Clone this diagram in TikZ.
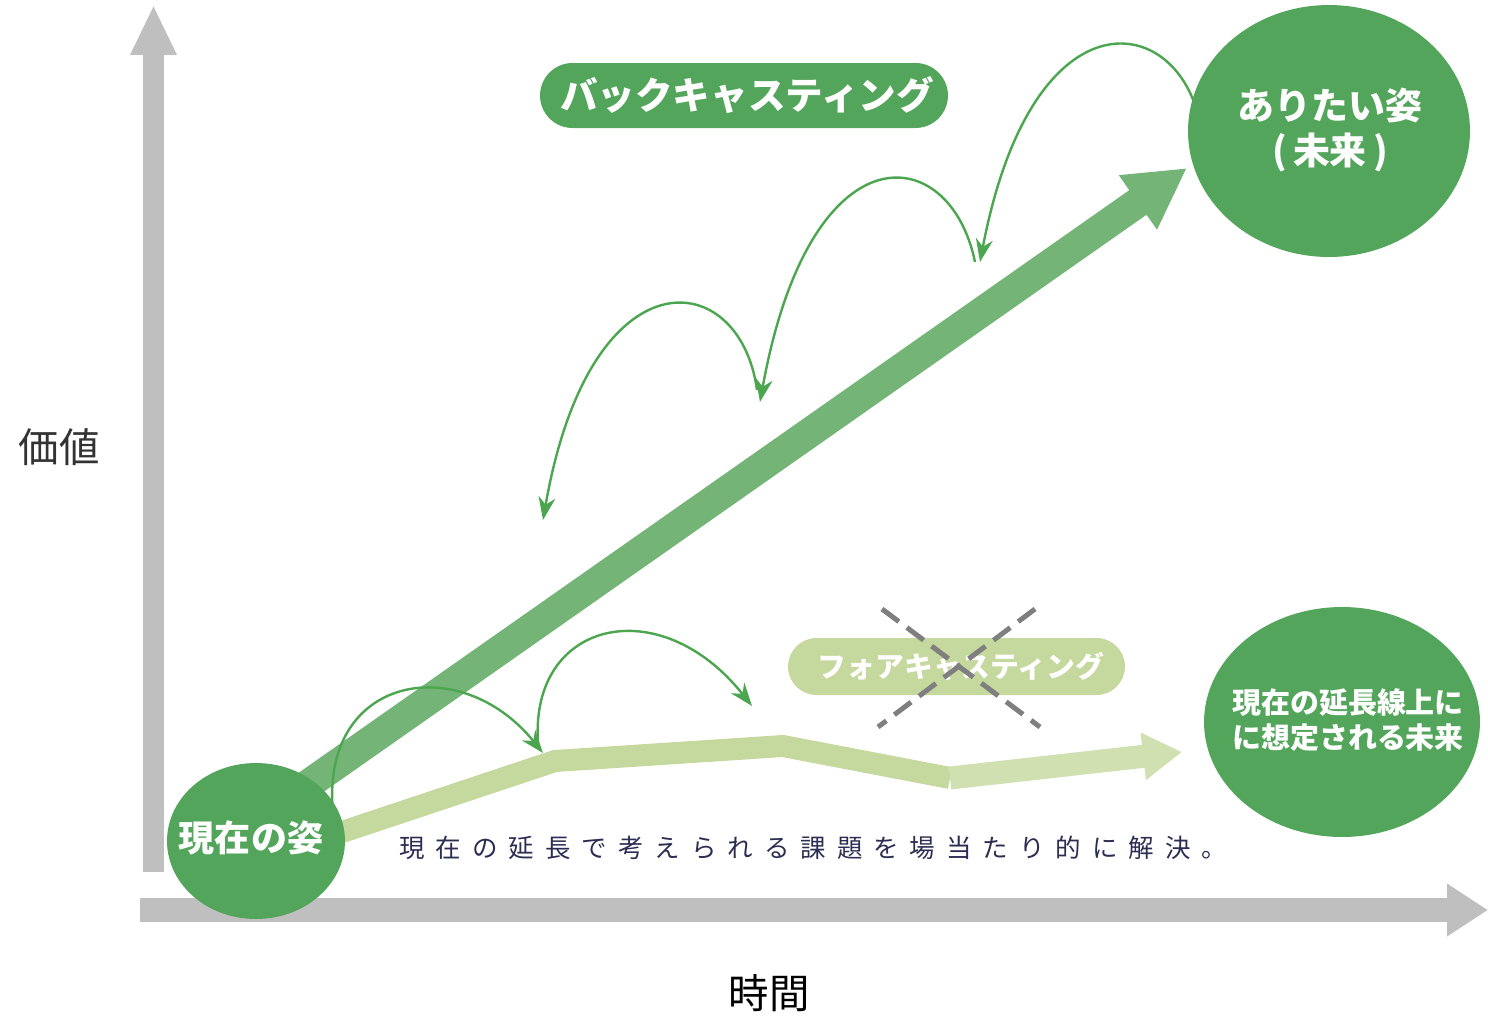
\documentclass[tikz,border=0pt]{standalone}
\usepackage{fontspec}
\setmainfont{Noto Sans CJK JP}
\usetikzlibrary{arrows.meta,shapes.geometric,shapes.misc}
\definecolor{axisgray}{HTML}{BFBFBF}
\definecolor{dkgreen}{HTML}{52A55A}
\definecolor{midgreen}{HTML}{74B577}
\definecolor{ltgreen}{HTML}{C5D89D}
\definecolor{ltgreentwo}{HTML}{D0E0B1}
\definecolor{arcgreen}{HTML}{4CA64F}
\definecolor{crossgray}{HTML}{7F7F7F}
\definecolor{txtgray}{HTML}{333333}
\definecolor{navy}{HTML}{2C2D52}
\newcommand\lgap{\hspace{0.22cm}}
\begin{document}
\begin{tikzpicture}[x=0.02cm,y=-0.02cm,
  arcarrow/.style={draw=arcgreen,line width=0.048cm,-{Stealth[length=0.46cm,width=0.34cm]}},
  blob/.style={ellipse,fill=dkgreen,inner sep=0pt},
  blobtext/.style={text=white,align=center,inner sep=0pt},
  pill/.style={rounded rectangle,inner sep=0pt,text=white}]
\path[use as bounding box] (0,0) rectangle (1488,1015);

% axes
\coordinate (vbot) at (153.5,872);
\coordinate (vtop) at (153.5,5);
\draw[axisgray,line width=0.42cm,-{Triangle[length=1cm,width=0.86cm]}] (vbot) -- (vtop);
\coordinate (hl) at (140,910);
\coordinate (hr) at (1488,910);
\draw[axisgray,line width=0.48cm,-{Triangle[length=0.82cm,width=1cm]}] (hl) -- (hr);

% backcasting main arrow
\coordinate (bs) at (256,821);
\coordinate (be) at (1187,168);
\draw[midgreen,line width=0.6cm,-{Triangle[length=1.2cm,width=1.24cm]}] (bs) -- (be);

% forecasting band
\coordinate (f0) at (330,836);
\coordinate (f1) at (555,761);
\coordinate (f2) at (783,746);
\coordinate (f3) at (950,778);
\coordinate (f4) at (1182,752);
\draw[ltgreen,line width=0.44cm,line join=miter] (f0) -- (f1) -- (f2) -- (f3);
\draw[ltgreentwo,line width=0.46cm,-{Triangle[length=0.78cm,width=0.9cm]}] (f3) -- (f4);

% thin arcs (forecasting)
\coordinate (a1s) at (333,812);
\coordinate (a1e) at (543,753);
\draw[arcarrow] (a1s) .. controls (320,675) and (460,650) .. (a1e);
\coordinate (a2s) at (538,742);
\coordinate (a2e) at (752,706);
\draw[arcarrow] (a2s) .. controls (530,620) and (660,590) .. (a2e);

% thin arcs (backcasting)
\coordinate (bAs) at (1196,108);
\coordinate (bAe) at (980,262);
\draw[arcarrow] (bAs) .. controls (1165,10) and (1030,0) .. (bAe);
\coordinate (bBs) at (975,262);
\coordinate (bBe) at (760,402);
\draw[arcarrow] (bBs) .. controls (950,140) and (810,125) .. (bBe);
\coordinate (bCs) at (757,390);
\coordinate (bCe) at (543,520);
\draw[arcarrow] (bCs) .. controls (740,265) and (590,250) .. (bCe);

% labels
\node[pill,fill=dkgreen,minimum width=8.16cm,minimum height=1.3cm,
      font=\bfseries\fontsize{21.4}{21.4}\selectfont] (back) at (744,95.5) {\hspace{0.12cm}バックキャスティング};
\node[pill,fill=ltgreen,minimum width=6.74cm,minimum height=1.14cm,
      font=\bfseries\fontsize{16.4}{16.4}\selectfont] (fore) at (956.5,666.5) {\hspace{0.18cm}フォアキャスティング};

% cross
\coordinate (x1) at (882,609);
\coordinate (x2) at (1040,727);
\coordinate (x3) at (1035,609);
\coordinate (x4) at (878,727);
\draw[crossgray,line width=0.1cm,dash pattern=on 0.42cm off 0.2cm] (x1) -- (x2);
\draw[crossgray,line width=0.1cm,dash pattern=on 0.42cm off 0.2cm] (x3) -- (x4);

% circles
\node[blob,minimum width=3.56cm,minimum height=3.12cm] (now) at (256,841) {};
\node[blobtext,font=\bfseries\fontsize{20.5}{20.5}\selectfont] (nowtext) at (251,838) {現在の姿};
\node[blob,minimum width=5.64cm,minimum height=5.04cm] (future) at (1329,131) {};
\node[blobtext,font=\bfseries\fontsize{21}{25.5}\selectfont] (futuretext) at (1330,130) {ありたい姿\\(\,未来\,)};
\node[blob,minimum width=5.52cm,minimum height=4.6cm] (ext) at (1342,722) {};
\node[blobtext,font=\bfseries\fontsize{16.5}{19.8}\selectfont] (exttext) at (1348,720) {現在の延長線上に\\に想定される未来};

% axis labels
\node[text=txtgray,font=\fontsize{23}{23}\selectfont] (val) at (59,447) {価値};
\node[text=black,font=\fontsize{23}{23}\selectfont] (time) at (769,993) {時間};

% description
\node[anchor=west,inner sep=0pt,text=navy,font=\fontsize{14.5}{15}\selectfont] (desc) at (399,848)
  {現\lgap 在\lgap の\lgap 延\lgap 長\lgap で\lgap 考\lgap え\lgap ら\lgap れ\lgap る\lgap 課\lgap 題\lgap を\lgap 場\lgap 当\lgap た\lgap り\lgap 的\lgap に\lgap 解\lgap 決\lgap 。};
\end{tikzpicture}
\end{document}
